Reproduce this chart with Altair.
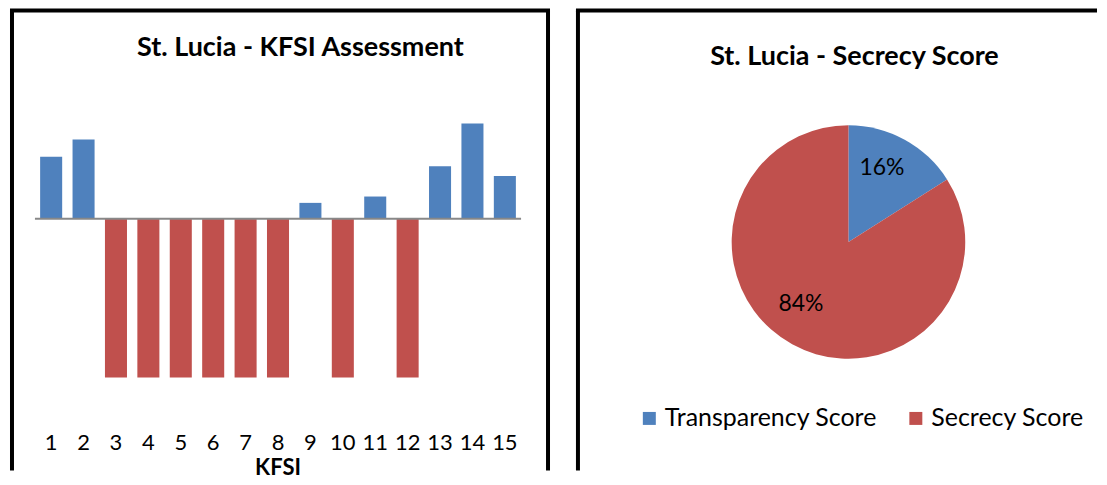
import altair as alt
import pandas as pd
import math

# ---- data ----
kfsi = list(range(1, 16))
kfsi_values = [0.39, 0.50, -1, -1, -1, -1, -1, -1, 0.10, -1, 0.14, -1, 0.33, 0.60, 0.27]
pie_labels = ["Transparency Score", "Secrecy Score"]
pie_values = [16, 84]
pie_text = ["16%", "84%"]
left_title = "St. Lucia - KFSI Assessment"
right_title = "St. Lucia - Secrecy Score"
x_title = "KFSI"

BLUE = "#4F81BD"
RED = "#C0504D"
FONT = "Lato"
H = 465
W1 = 550
W2 = 541

bars_df = pd.DataFrame({"KFSI": kfsi, "value": kfsi_values})
pie_df = pd.DataFrame({"label": pie_labels, "value": pie_values,
                       "text": pie_text, "order": [0, 1]})
one = pd.DataFrame({"a": [0]})

xscale = alt.Scale(domain=kfsi, range=[25, 512], paddingInner=0.32, paddingOuter=0.16)
yscale = alt.Scale(domain=[-1, 1], range=[369.7, 51.7], zero=False, nice=False)


def rule(**enc):
    return alt.Chart(one).mark_rule(color="black", strokeWidth=4).encode(
        **{k: alt.value(v) for k, v in enc.items()})


left_frame = [
    rule(x=2, y=2, y2=H - 2),
    rule(x=0, x2=541, y=2),
    rule(x=539, y=2, y2=H - 2),
]
right_frame = [
    rule(x=19, y=2, y2=H - 2),
    rule(x=17, x2=W2 - 2, y=2),
]

base = alt.Chart(bars_df)
bars = base.mark_bar().encode(
    x=alt.X("KFSI:O", scale=xscale, axis=None),
    y=alt.Y("value:Q", scale=yscale, axis=None),
    y2=alt.datum(0),
    color=alt.condition(alt.datum.value > 0, alt.value(BLUE), alt.value(RED)),
)
zero_line = alt.Chart(one).mark_rule(color="#888888", strokeWidth=2).encode(
    y=alt.value(210.7), x=alt.value(25), x2=alt.value(512),
)
ticks = base.mark_text(font=FONT, fontSize=22, color="black", baseline="middle").encode(
    x=alt.X("KFSI:O", scale=xscale, axis=None),
    y=alt.value(435),
    text="KFSI:O",
)
xt = alt.Chart(pd.DataFrame({"t": [x_title]})).mark_text(
    font=FONT, fontSize=22, fontWeight="bold", color="black", baseline="middle").encode(
    x=alt.value(268.5), y=alt.value(460), text="t:N")
lt = alt.Chart(pd.DataFrame({"t": [left_title]})).mark_text(
    font=FONT, fontSize=27, fontWeight="bold", color="black", baseline="middle").encode(
    x=alt.value(291), y=alt.value(40), text="t:N")

left = alt.layer(bars, zero_line, ticks, xt, lt, *left_frame).properties(width=W1, height=H)

cx, cy = 290, 234
theta_scale = alt.Scale(domain=[0, 100], range=[0, 2 * math.pi])
pie = alt.Chart(pie_df).mark_arc(radius=117).encode(
    theta=alt.Theta("value:Q", stack=True, scale=theta_scale),
    order=alt.Order("order:Q"),
    x=alt.value(cx), y=alt.value(cy),
    color=alt.Color("label:N", scale=alt.Scale(domain=pie_labels, range=[BLUE, RED]),
                    legend=alt.Legend(title=None, orient="none", legendX=628, legendY=398,
                                      direction="horizontal", symbolType="square",
                                      symbolSize=169, symbolStrokeWidth=0,
                                      labelFont=FONT, labelFontSize=25, labelColor="black",
                                      labelLimit=400, columnPadding=26, labelOffset=3,
                                      padding=0)),
)
lbl_base = alt.Chart(pie_df).transform_window(
    cum="sum(value)", sort=[alt.SortField("order")]
).transform_calculate(
    mid="datum.cum - datum.value / 2"
).encode(
    theta=alt.Theta("mid:Q", stack=False, scale=theta_scale),
    x=alt.value(cx), y=alt.value(cy),
    text="text:N",
)
lbl1 = lbl_base.mark_text(radius=80, font=FONT, fontSize=23, color="black",
                          baseline="middle", dx=-5, dy=-4).transform_filter(alt.datum.order == 0)
lbl2 = lbl_base.mark_text(radius=80, font=FONT, fontSize=23, color="black",
                          baseline="middle", dx=-9, dy=-8).transform_filter(alt.datum.order == 1)
rt = alt.Chart(pd.DataFrame({"t": [right_title]})).mark_text(
    font=FONT, fontSize=27, fontWeight="bold", color="black", baseline="middle").encode(
    x=alt.value(296), y=alt.value(49), text="t:N")

right = alt.layer(pie, lbl1, lbl2, rt, *right_frame).properties(width=W2, height=H)

chart = alt.hconcat(left, right, spacing=0).properties(
    padding={"left": 0, "top": 0, "right": 0, "bottom": 0}
).configure_view(stroke=None, fill="white")

chart.save("out.html", embed_options={"renderer": "svg", "actions": False})
